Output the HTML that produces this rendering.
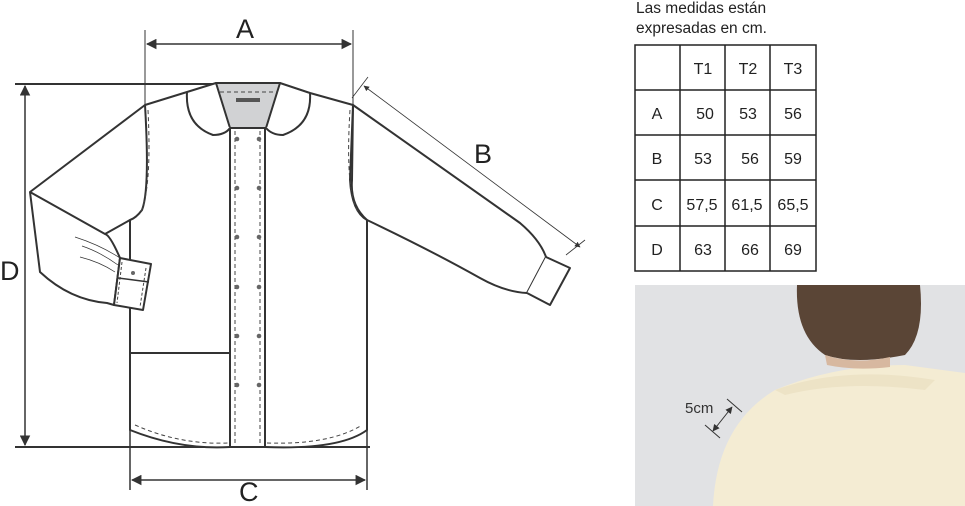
<!DOCTYPE html>
<html><head><meta charset="utf-8"><style>
body{margin:0;background:#fff;width:965px;height:506px;overflow:hidden;position:relative;font-family:"Liberation Sans",sans-serif}
.photo{position:absolute;left:635px;top:285px;width:330px;height:221px;background:#e1e2e4;overflow:hidden}
</style></head><body>
<svg width="965" height="506" style="position:absolute;left:0;top:0" font-family="Liberation Sans, sans-serif">
<defs><marker id="ar" viewBox="0 0 10 10" refX="9" refY="5" markerWidth="7" markerHeight="7" orient="auto-start-reverse"><path d="M0,0L10,5L0,10z" fill="#333"/></marker></defs>
<g stroke="#333" fill="none">
<line x1="145" y1="30" x2="145" y2="108" stroke-width="1"/>
<line x1="353" y1="30" x2="353" y2="108" stroke-width="1"/>
<line x1="147" y1="44" x2="351" y2="44" stroke-width="1.5" marker-start="url(#ar)" marker-end="url(#ar)"/>
<line x1="15" y1="84" x2="216" y2="84" stroke-width="2"/>
<line x1="15" y1="447" x2="370" y2="447" stroke-width="2"/>
<line x1="25" y1="86" x2="25" y2="445" stroke-width="1.5" marker-start="url(#ar)" marker-end="url(#ar)"/>
<line x1="130" y1="220" x2="130" y2="490" stroke-width="1.5"/>
<line x1="367" y1="220" x2="367" y2="490" stroke-width="1.5"/>
<line x1="132" y1="480" x2="365" y2="480" stroke-width="1.5" marker-start="url(#ar)" marker-end="url(#ar)"/>
<line x1="352" y1="98" x2="368" y2="77" stroke-width="0.8"/>
<line x1="566" y1="255" x2="585" y2="240" stroke-width="0.8"/>
<line x1="364" y1="86" x2="580" y2="247" stroke-width="0.8" marker-start="url(#ar)" marker-end="url(#ar)"/>
</g>
<g stroke="#333" stroke-width="2" fill="#fff" stroke-linejoin="round">
<path d="M353,105 L520,223 Q540,240 546,257 L527,293 Q505,292 480,278 Q430,250 367,220 Q350,205 352,180 Z"/>
<path d="M546,257 L570,268 L550,305 L527,293" />
<path d="M145,105 Q150,190 142,210 Q136,218 130,220 L130,430 Q180,450 230,447 L265,447 Q340,450 367,430 L367,220 Q352,212 350,180 L353,105 L310,93 L280,83 L216,83 L187,92 Z"/>
<path d="M216,83 L230,128 L266,128 L280,83 Z" fill="#d1d2d4"/>
<path d="M187,92 Q185,125 213,135 Q225,135 230,128" />
<path d="M310,93 Q312,125 283,135 Q272,135 266,128" />
<path d="M230,128 L230,447 M265,128 L265,447" fill="none"/>
<path d="M130,353 L230,353" fill="none"/>
<path d="M145,105 L30,192 L40,272 Q70,300 107,303 L114,305 L120,258 Q110,235 105,234 L30,192"/>
<path d="M105,234 L130,220" fill="none"/>
<path d="M120,258 L151,264 L143,310 L114,305 Z"/>
<path d="M118,278 L149,282" stroke-width="1.5" fill="none"/>
<path d="M75,237 Q100,245 120,258 M82,246 Q100,252 118,265 M80,257 Q100,262 115,272" stroke-width="0.7" fill="none"/>
</g>
<rect x="236" y="98" width="24" height="4" fill="#555"/>
<g stroke="#444" stroke-width="1" stroke-dasharray="4,3" fill="none">
<path d="M235,131 L235,445 M260,131 L260,445"/>
<path d="M220,92 L278,92 M148,110 Q152,190 140,214 M350,110 Q345,190 358,212"/>
<path d="M135,425 Q180,445 228,443 M267,443 Q330,445 362,425"/>
<path d="M146,268 L140,307 M122,262 L117,303" stroke-dasharray="3,2"/>
</g>
<g fill="#666">
<circle cx="237" cy="139" r="2.3"/><circle cx="259" cy="139" r="2.3"/>
<circle cx="237" cy="188" r="2.3"/><circle cx="259" cy="188" r="2.3"/>
<circle cx="237" cy="237" r="2.3"/><circle cx="259" cy="237" r="2.3"/>
<circle cx="237" cy="287" r="2.3"/><circle cx="259" cy="287" r="2.3"/>
<circle cx="237" cy="336" r="2.3"/><circle cx="259" cy="336" r="2.3"/>
<circle cx="237" cy="385" r="2.3"/><circle cx="259" cy="385" r="2.3"/>
<circle cx="133" cy="273" r="2"/>
</g>
<g fill="#222" font-size="27">
<text x="236" y="38">A</text>
<text x="474" y="163">B</text>
<text x="239" y="501">C</text>
<text x="0" y="280">D</text>
</g>
<g fill="#222" font-size="15.5">
<text x="636" y="13">Las medidas están</text>
<text x="636" y="33">expresadas en cm.</text>
</g>
<g stroke="#222" stroke-width="1.5">
<rect x="635" y="45" width="181" height="226" fill="none"/>
<line x1="680" y1="45" x2="680" y2="271"/><line x1="725" y1="45" x2="725" y2="271"/><line x1="770" y1="45" x2="770" y2="271"/>
<line x1="635" y1="90" x2="816" y2="90"/><line x1="635" y1="135" x2="816" y2="135"/><line x1="635" y1="180" x2="816" y2="180"/><line x1="635" y1="226" x2="816" y2="226"/>
</g>
<g fill="#222" font-size="16" text-anchor="middle">
<text x="703" y="74">T1</text><text x="748" y="74">T2</text><text x="793" y="74">T3</text>
<text x="657" y="119">A</text><text x="705" y="119">50</text><text x="748" y="119">53</text><text x="793" y="119">56</text>
<text x="657" y="164">B</text><text x="703" y="164">53</text><text x="750" y="164">56</text><text x="793" y="164">59</text>
<text x="657" y="210">C</text><text x="702" y="210">57,5</text><text x="747" y="210">61,5</text><text x="793" y="210">65,5</text>
<text x="657" y="255">D</text><text x="703" y="255">63</text><text x="750" y="255">66</text><text x="793" y="255">69</text>
</g>
</svg>
<div class="photo">
<svg width="330" height="221">
<path d="M78,221 Q82,140 140,105 Q200,80 270,80 L330,88 L330,221 Z" fill="#f4ecd3"/>
<path d="M140,105 Q210,80 300,95 L290,105 Q210,95 150,110 Z" fill="#ede3c6"/>
<path d="M162,0 L285,0 Q290,50 270,70 Q220,80 190,70 Q160,50 162,0 Z" fill="#5a4536"/>
<path d="M190,70 Q220,80 255,72 L255,82 Q220,86 192,80 Z" fill="#d7b8a0"/>
<g stroke="#333" stroke-width="1" fill="none">
<line x1="92" y1="114" x2="107" y2="127"/><line x1="70" y1="140" x2="85" y2="153"/>
<line x1="97" y1="122" x2="78" y2="146" marker-start="url(#ar)" marker-end="url(#ar)"/>
</g>
<text x="50" y="128" font-size="15" fill="#333" font-family="Liberation Sans, sans-serif">5cm</text>
</svg>
</div>
</body></html>
